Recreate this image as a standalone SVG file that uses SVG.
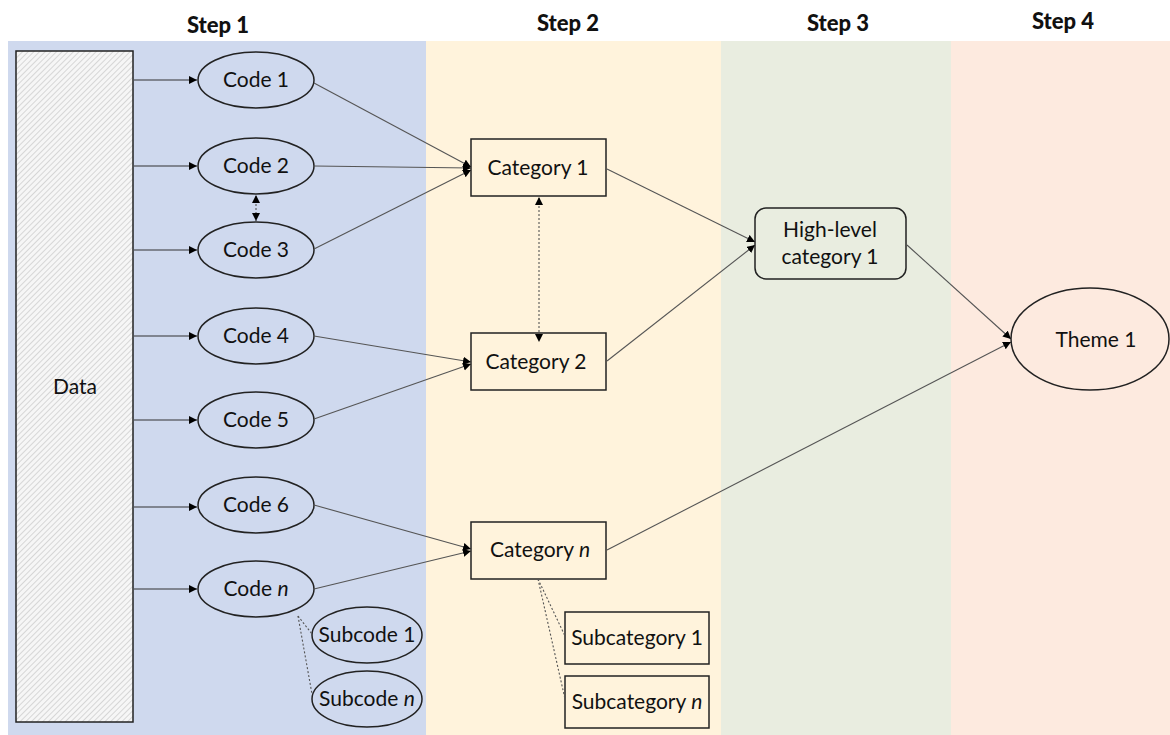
<svg xmlns="http://www.w3.org/2000/svg" width="1170" height="735" viewBox="0 0 1170 735">
<defs>
<pattern id="hatch" patternUnits="userSpaceOnUse" width="4" height="4" patternTransform="rotate(45)">
<rect width="4" height="4" fill="#f6f6f6"/>
<line x1="0" y1="0" x2="0" y2="4" stroke="#c8c8c8" stroke-width="1.4"/>
</pattern>
<marker id="ah" markerUnits="userSpaceOnUse" markerWidth="9" markerHeight="9" refX="8" refY="4" orient="auto">
<path d="M0,0 L8,4 L0,8 z" fill="#000"/>
</marker>
<marker id="ahs" markerUnits="userSpaceOnUse" markerWidth="9" markerHeight="9" refX="1" refY="4" orient="auto">
<path d="M8,0 L0,4 L8,8 z" fill="#000"/>
</marker>
</defs>
<style>
text{font-family:Lato,"Open Sans","Liberation Sans",sans-serif;fill:#111;text-anchor:middle}
.hd{font-size:22px;font-weight:900}
.lb{font-size:21px}
.sh{stroke:#222;stroke-width:1.5}
.cn{fill:none;stroke:#555;stroke-width:1.1}
.ar{fill:none;stroke:#333;stroke-width:1.1}
.dt{fill:none;stroke:#555;stroke-width:1.1;stroke-dasharray:2,2}
</style>
<g id="bands">
<rect x="8" y="41" width="418" height="694" fill="#cfd9ee"/>
<rect x="426" y="41" width="295" height="694" fill="#fff3dc"/>
<rect x="721" y="41" width="230" height="694" fill="#e9ede0"/>
<rect x="951" y="41" width="219" height="694" fill="#fdeadf"/>
</g>
<g id="headers">
<text class="hd" x="218" y="33">Step 1</text>
<text class="hd" x="568" y="31">Step 2</text>
<text class="hd" x="838" y="31">Step 3</text>
<text class="hd" x="1063" y="29">Step 4</text>
</g>
<g id="data">
<rect x="16" y="51" width="117" height="671" fill="url(#hatch)" class="sh"/>
<text class="lb" x="75" y="394">Data</text>
</g>
<g id="code1"><ellipse class="sh" cx="256" cy="80" rx="58" ry="28" fill="#cfd9ee"/><text class="lb" x="256" y="87">Code 1</text></g>
<g id="code2"><ellipse class="sh" cx="256" cy="166" rx="58" ry="28" fill="#cfd9ee"/><text class="lb" x="256" y="173">Code 2</text></g>
<g id="code3"><ellipse class="sh" cx="256" cy="250" rx="58" ry="28" fill="#cfd9ee"/><text class="lb" x="256" y="257">Code 3</text></g>
<g id="code4"><ellipse class="sh" cx="256" cy="336" rx="58" ry="28" fill="#cfd9ee"/><text class="lb" x="256" y="343">Code 4</text></g>
<g id="code5"><ellipse class="sh" cx="256" cy="420" rx="58" ry="28" fill="#cfd9ee"/><text class="lb" x="256" y="427">Code 5</text></g>
<g id="code6"><ellipse class="sh" cx="256" cy="505" rx="58" ry="28" fill="#cfd9ee"/><text class="lb" x="256" y="512">Code 6</text></g>
<g id="coden"><ellipse class="sh" cx="256" cy="589" rx="58" ry="28" fill="#cfd9ee"/><text class="lb" x="256" y="596">Code <tspan font-style="italic">n</tspan></text></g>
<g id="subcode1"><ellipse class="sh" cx="367" cy="635" rx="55" ry="28" fill="#cfd9ee"/><text class="lb" x="367" y="642">Subcode 1</text></g>
<g id="subcoden"><ellipse class="sh" cx="367" cy="699" rx="55" ry="28" fill="#cfd9ee"/><text class="lb" x="367" y="706">Subcode <tspan font-style="italic">n</tspan></text></g>
<g id="category1"><rect class="sh" x="471" y="139" width="135" height="57" fill="#fff3dc"/><text class="lb" x="538" y="175">Category 1</text></g>
<g id="category2"><rect class="sh" x="471" y="333" width="135" height="57" fill="#fff3dc"/><text class="lb" x="536" y="369">Category 2</text></g>
<g id="categoryn"><rect class="sh" x="471" y="522" width="135" height="57" fill="#fff3dc"/><text class="lb" x="540" y="557">Category <tspan font-style="italic">n</tspan></text></g>
<g id="subcategory1"><rect class="sh" x="565" y="612" width="144" height="52" fill="#fff3dc"/><text class="lb" x="637" y="645">Subcategory 1</text></g>
<g id="subcategoryn"><rect class="sh" x="565" y="676" width="144" height="52" fill="#fff3dc"/><text class="lb" x="637" y="709">Subcategory <tspan font-style="italic">n</tspan></text></g>
<g id="highlevel1"><rect class="sh" x="755" y="208" width="151" height="71" rx="11" fill="#e9ede0"/><text class="lb" x="830" y="237">High-level</text><text class="lb" x="830" y="264">category 1</text></g>
<g id="theme1"><ellipse class="sh" cx="1090" cy="339" rx="79" ry="51" fill="#fdeadf"/><text class="lb" x="1096" y="347">Theme 1</text></g>
<g id="connectors">
<line class="ar" x1="134" y1="80" x2="197" y2="80" marker-end="url(#ah)"/>
<line class="ar" x1="134" y1="166" x2="197" y2="166" marker-end="url(#ah)"/>
<line class="ar" x1="134" y1="250" x2="197" y2="250" marker-end="url(#ah)"/>
<line class="ar" x1="134" y1="336" x2="197" y2="336" marker-end="url(#ah)"/>
<line class="ar" x1="134" y1="420" x2="197" y2="420" marker-end="url(#ah)"/>
<line class="ar" x1="134" y1="507" x2="197" y2="507" marker-end="url(#ah)"/>
<line class="ar" x1="134" y1="589" x2="197" y2="589" marker-end="url(#ah)"/>
<line class="cn" x1="314" y1="83" x2="471" y2="167" marker-end="url(#ah)"/>
<line class="cn" x1="314" y1="166" x2="471" y2="168" marker-end="url(#ah)"/>
<line class="cn" x1="314" y1="249" x2="471" y2="170" marker-end="url(#ah)"/>
<line class="cn" x1="314" y1="336" x2="471" y2="362" marker-end="url(#ah)"/>
<line class="cn" x1="314" y1="419" x2="471" y2="364" marker-end="url(#ah)"/>
<line class="cn" x1="314" y1="505" x2="471" y2="549" marker-end="url(#ah)"/>
<line class="cn" x1="314" y1="589" x2="471" y2="551" marker-end="url(#ah)"/>
<line class="cn" x1="607" y1="169" x2="755" y2="242" marker-end="url(#ah)"/>
<line class="cn" x1="607" y1="361" x2="755" y2="245" marker-end="url(#ah)"/>
<line class="cn" x1="907" y1="245" x2="1011" y2="339" marker-end="url(#ah)"/>
<line class="cn" x1="607" y1="550" x2="1011" y2="342" marker-end="url(#ah)"/>
<line class="dt" x1="256" y1="196" x2="256" y2="221" marker-start="url(#ahs)" marker-end="url(#ah)"/>
<line class="dt" x1="539" y1="198" x2="539" y2="342" marker-start="url(#ahs)" marker-end="url(#ah)"/>
<line class="dt" x1="298" y1="616" x2="312" y2="634"/>
<line class="dt" x1="298" y1="616" x2="312" y2="694"/>
<line class="dt" x1="538" y1="579" x2="565" y2="636"/>
<line class="dt" x1="538" y1="579" x2="565" y2="699"/>
</g>
</svg>
